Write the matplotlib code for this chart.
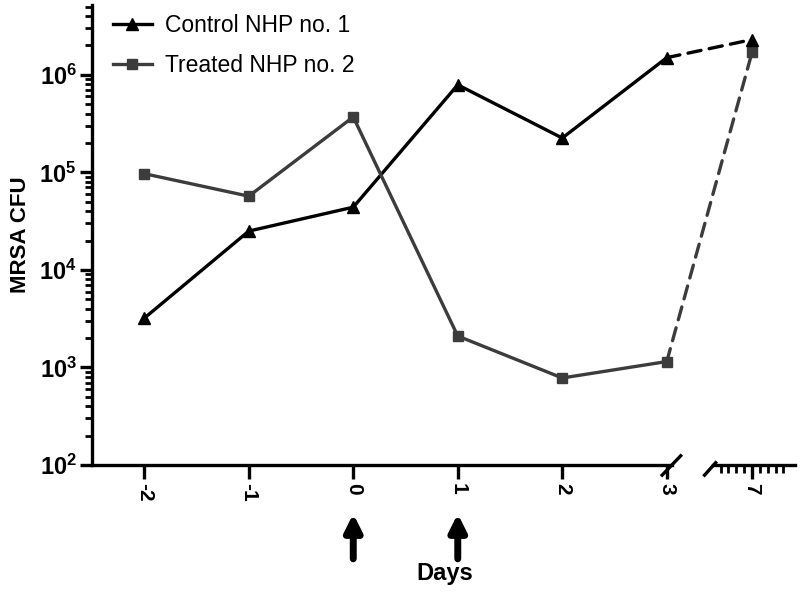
import numpy as np
import matplotlib.pyplot as plt
from matplotlib.patches import ConnectionPatch

plt.rcParams['font.family'] = ['Liberation Sans', 'DejaVu Sans']
plt.rcParams['mathtext.fontset'] = 'custom'
plt.rcParams['mathtext.rm'] = 'Liberation Sans'
plt.rcParams['mathtext.bf'] = 'Liberation Sans:bold'

# data
days = [-2, -1, 0, 1, 2, 3]
late_day = 7
control_cfu = [3.2e3, 2.5e4, 4.4e4, 7.9e5, 2.25e5, 1.5e6]
control_late = 2.3e6
treated_cfu = [9.7e4, 5.7e4, 3.7e5, 2.1e3, 7.8e2, 1.15e3]
treated_late = 1.7e6
treat_days = [0, 1]

control_color = 'black'
treated_color = '#3c3c3c'

fig = plt.figure(figsize=(8.0, 5.96), dpi=100)
ax1 = fig.add_axes([0.115, 0.2198, 0.725, 0.7718])
ax2 = fig.add_axes([0.891, 0.2198, 0.103, 0.7718], sharey=ax1)

for ax in (ax1, ax2):
    ax.set_yscale('log')
    for s in ('top', 'right'):
        ax.spines[s].set_visible(False)
    ax.spines['bottom'].set_linewidth(2.4)
    ax.spines['left'].set_linewidth(2.4)
    ax.set_facecolor('none')

ax1.set_ylim(1e2, 5.2e6)
ax1.set_xlim(-2.5, 3.05)
ax2.set_xlim(2.0, 12.5)
ax2.spines['left'].set_visible(False)
ax2.tick_params(axis='y', which='both', left=False, labelleft=False)

ax1.plot(days, control_cfu, color=control_color, lw=2.4, marker='^', ms=8,
         label='Control NHP no. 1', clip_on=False, zorder=3)
ax1.plot(days, treated_cfu, color=treated_color, lw=2.4, marker='s', ms=7,
         label='Treated NHP no. 2', clip_on=False, zorder=3)
ax2.plot([late_day], [control_late], color=control_color, marker='^', ms=8,
         ls='none', clip_on=False, zorder=4)
ax2.plot([late_day], [treated_late], color=treated_color, marker='s', ms=7,
         ls='none', clip_on=False, zorder=3)

# dashed links across the axis break
for y0, y1, c in [(control_cfu[-1], control_late, control_color),
                  (treated_cfu[-1], treated_late, treated_color)]:
    con = ConnectionPatch(xyA=(days[-1], y0), coordsA=ax1.transData,
                          xyB=(late_day, y1), coordsB=ax2.transData,
                          color=c, lw=2.4, linestyle=(0, (4, 2.5)), zorder=2)
    fig.add_artist(con)

# y ticks
ax1.set_yticks([1e2, 1e3, 1e4, 1e5, 1e6])
ax1.set_yticklabels([r'$\mathbf{10^{%d}}$' % e for e in range(2, 7)])
ax1.tick_params(axis='y', which='major', length=9, width=2.4, labelsize=17, pad=2)
ax1.tick_params(axis='y', which='minor', length=5, width=2)

# x ticks
ax1.set_xticks(days)
ax1.set_xticklabels([str(d) for d in days], rotation=-90, fontweight='bold', fontsize=15)
ax1.tick_params(axis='x', which='major', length=10, width=2.4, pad=3)
ax2.set_xticks([late_day])
ax2.set_xticks([3, 4, 5, 6, 8, 9, 10, 11], minor=True)
ax2.set_xticklabels([str(late_day)], rotation=-90, fontweight='bold', fontsize=15)
ax2.tick_params(axis='x', which='major', length=10, width=2.4, pad=3)
ax2.tick_params(axis='x', which='minor', length=6, width=2)

# break marks
ax1.plot([0.983, 1.015], [-0.022, 0.02], color='black', lw=2.4,
         transform=ax1.transAxes, clip_on=False)
ax2.plot([-0.1, 0.035], [-0.022, 0.005], color='black', lw=2.4,
         transform=ax2.transAxes, clip_on=False)

# treatment arrows
for d in treat_days:
    ax1.annotate('', xy=(d, -0.1), xycoords=('data', 'axes fraction'),
                 xytext=(d, -0.21), textcoords=('data', 'axes fraction'),
                 arrowprops=dict(arrowstyle='-|>,head_width=0.5,head_length=1.0',
                                 color='black', lw=5))

ax1.set_ylabel('MRSA CFU', fontsize=16, fontweight='bold', labelpad=6)
fig.text(0.556, 0.038, 'Days', ha='center', va='center', fontsize=17, fontweight='bold')

ax1.legend(loc='upper left', bbox_to_anchor=(0.0, 1.025), frameon=False, fontsize=16.5,
           handlelength=1.7, handletextpad=0.6, labelspacing=0.75)

fig.savefig('out.png', dpi=100)
